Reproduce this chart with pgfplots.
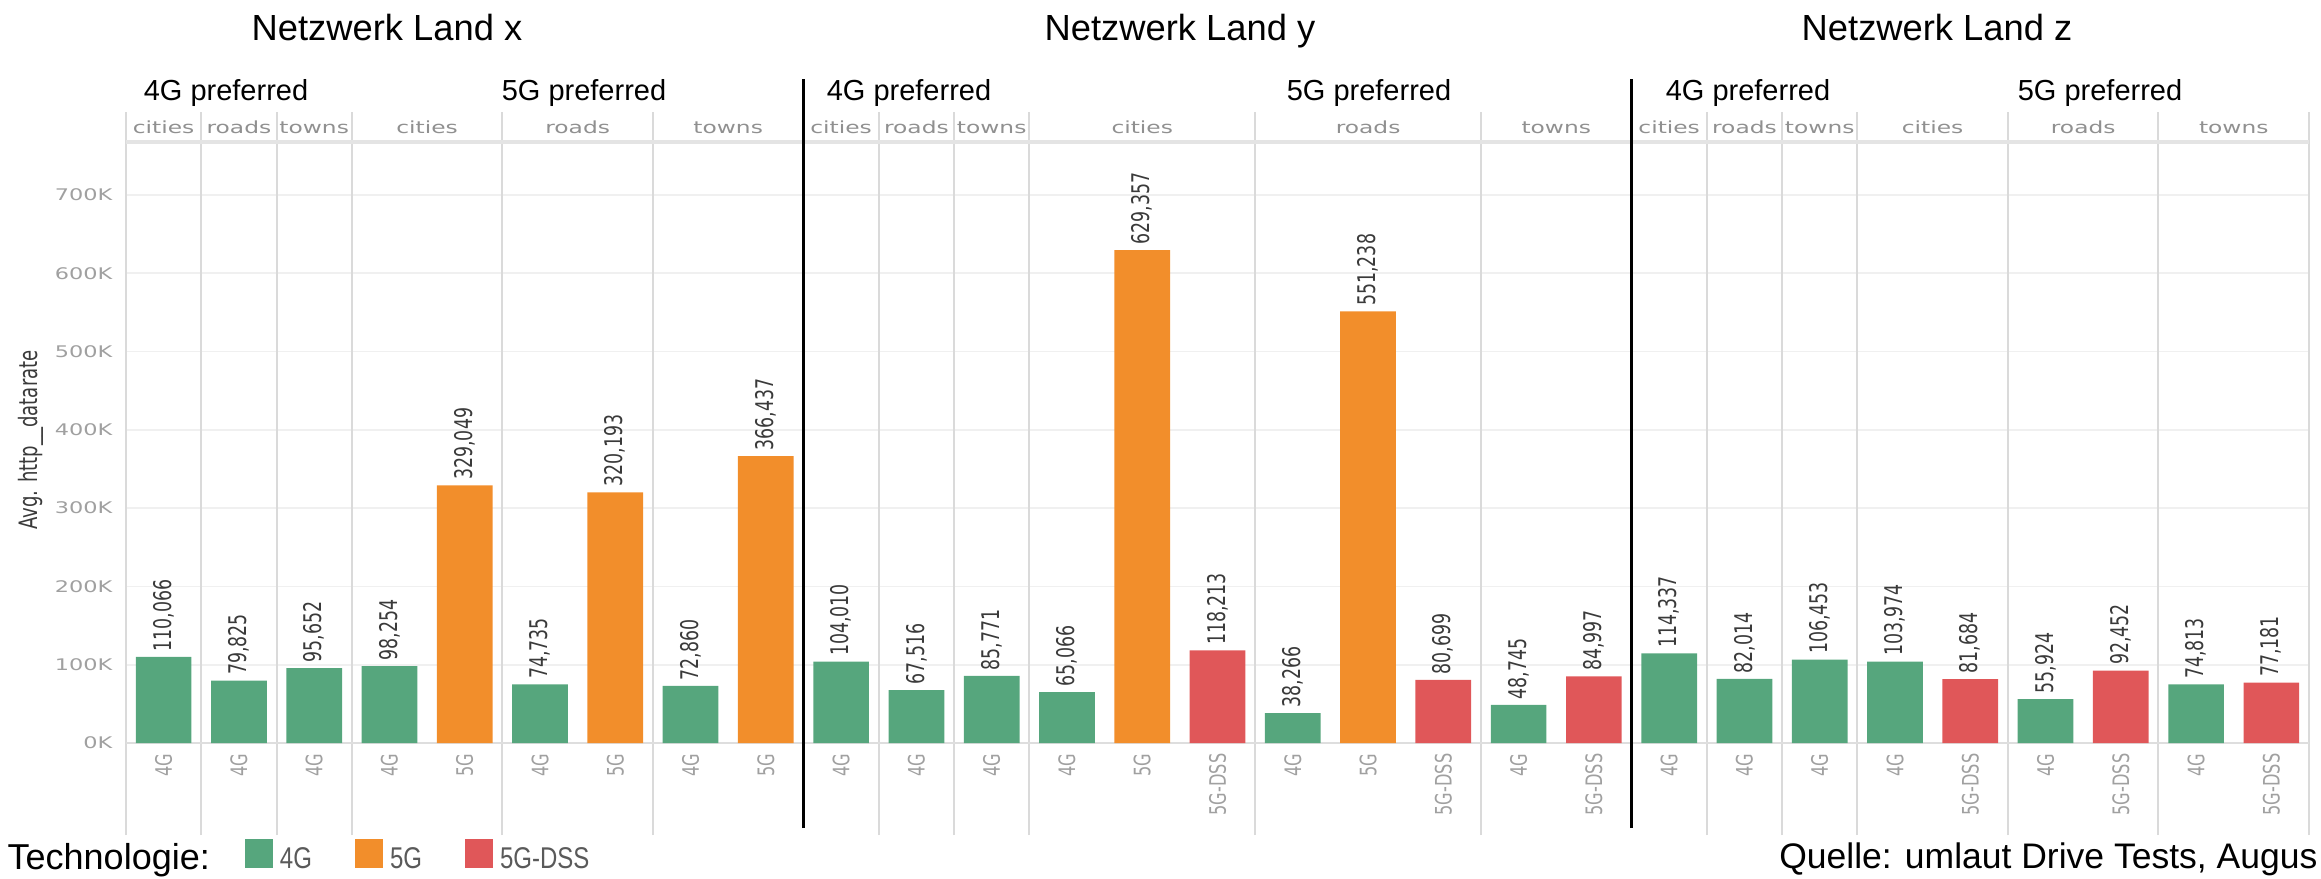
\documentclass[border=0pt]{standalone}
\usepackage{fontspec}
\setmainfont{DejaVu Sans}
\newfontfamily\wideFont{DejaVu Sans}[FakeStretch=1.4]
\newfontfamily\rotFont{DejaVu Sans}[FakeStretch=0.714]
\newfontfamily\slideFont{Liberation Sans}
\newfontfamily\legFont{Liberation Sans}[FakeStretch=0.8]
\usepackage{pgfplots}
\pgfplotsset{compat=1.18}
\definecolor{g4}{HTML}{56A67D}
\definecolor{o5}{HTML}{F28E2B}
\definecolor{r5}{HTML}{E05759}
\definecolor{tickgrey}{HTML}{A0A0A0}
\definecolor{sepgrey}{HTML}{DADADA}
\definecolor{gridgrey}{HTML}{F0F0F0}
\definecolor{basegrey}{HTML}{DEDEDE}
\definecolor{labgrey}{HTML}{3A3A3A}
\definecolor{legtext}{HTML}{5A5A5A}
\pgfplotsset{mylegend/.style={legend image code/.code={\fill[##1] (0pt,-1.5pt) rectangle (8.4pt,7.2pt);}}}
\tikzset{hdr/.style={anchor=base, inner sep=0pt, font=\wideFont\fontsize{5}{5}\selectfont, text=tickgrey!90!black}}
\begin{document}
\begin{tikzpicture}
\useasboundingbox (0,0) rectangle (696.3pt,263.4pt);
\begin{axis}[
  at={(37.8pt,40.5pt)}, anchor=south west,
  width=654.9pt, height=180.3pt, scale only axis,
  xmin=0, xmax=29, ymin=0, ymax=767560,
  clip=false,
  axis line style={draw=none},
  tick style={draw=none}, major tick length=0pt,
  scaled y ticks=false,
  ytick={0,100000,200000,300000,400000,500000,600000,700000},
  yticklabels={0K,100K,200K,300K,400K,500K,600K,700K},
  yticklabel style={anchor=east, inner sep=0pt, xshift=-3.9pt, font=\wideFont\fontsize{4.8}{5}\selectfont, text=tickgrey},
  ymajorgrids, major grid style={gridgrey, line width=0.5pt},
  xtick={0.5,1.5,...,28.5},
  xticklabels={4G,4G,4G,4G,5G,4G,5G,4G,5G,
               4G,4G,4G,4G,5G,5G-DSS,4G,5G,5G-DSS,4G,5G-DSS,
               4G,4G,4G,4G,5G-DSS,4G,5G-DSS,4G,5G-DSS},
  xticklabel style={yshift=-3pt, rotate=90, anchor=east, inner sep=0pt, font=\rotFont\fontsize{6.8}{7}\selectfont, text=tickgrey},
  ybar, bar width=0.74,
  nodes near coords={\pgfmathprintnumber[fixed,precision=0,1000 sep={,},assume math mode=true]{\pgfplotspointmeta}},
  nodes near coords align={anchor=west},
  every node near coord/.append style={rotate=90, anchor=west, inner sep=1.5pt, font=\rotFont\fontsize{7.3}{8}\selectfont, text=labgrey},
  legend style={draw=none, fill=none, inner sep=0pt, outer sep=0pt, at={(0.0545,-0.1922)}, anchor=west, legend columns=-1,
    /tikz/every odd column/.append style={column sep=2.1pt},
    /tikz/every even column/.append style={column sep=12.9pt},
    nodes={inner sep=0pt, font=\legFont\fontsize{9}{10}\selectfont, text=legtext}},
]
% separators
\pgfplotsinvokeforeach{0,1,2,3,5,7,10,11,12,15,18,21,22,23,25,27,29}{
  \draw[sepgrey, line width=0.6pt] (axis cs:#1,-117500) -- (axis cs:#1,805900);
}
\draw[basegrey, line width=0.6pt] (axis cs:0,0) -- (axis cs:29,0);
\draw[basegrey!80, line width=1.2pt] (axis cs:0,767560) -- (axis cs:29,767560);
\pgfplotsinvokeforeach{9,20}{
  \draw[black, line width=1pt] (axis cs:#1,-108600) -- (axis cs:#1,848000);
}
% header labels
\node[hdr] at (axis cs:0.5,779050) {cities};
\node[hdr] at (axis cs:1.5,779050) {roads};
\node[hdr] at (axis cs:2.5,779050) {towns};
\node[hdr] at (axis cs:4,779050) {cities};
\node[hdr] at (axis cs:6,779050) {roads};
\node[hdr] at (axis cs:8,779050) {towns};
\node[hdr] at (axis cs:9.5,779050) {cities};
\node[hdr] at (axis cs:10.5,779050) {roads};
\node[hdr] at (axis cs:11.5,779050) {towns};
\node[hdr] at (axis cs:13.5,779050) {cities};
\node[hdr] at (axis cs:16.5,779050) {roads};
\node[hdr] at (axis cs:19,779050) {towns};
\node[hdr] at (axis cs:20.5,779050) {cities};
\node[hdr] at (axis cs:21.5,779050) {roads};
\node[hdr] at (axis cs:22.5,779050) {towns};
\node[hdr] at (axis cs:24,779050) {cities};
\node[hdr] at (axis cs:26,779050) {roads};
\node[hdr] at (axis cs:28,779050) {towns};

\addplot[fill=g4, draw=none, bar shift=0pt, mylegend] coordinates {
  (0.5,110066) (1.5,79825) (2.5,95652) (3.5,98254) (5.5,74735) (7.5,72860)
  (9.5,104010) (10.5,67516) (11.5,85771) (12.5,65066) (15.5,38266) (18.5,48745)
  (20.5,114337) (21.5,82014) (22.5,106453) (23.5,103974) (25.5,55924) (27.5,74813)
};
\addlegendentry{\raisebox{1.5pt}{4G}}
\addplot[fill=o5, draw=none, bar shift=0pt, mylegend] coordinates {
  (4.5,329049) (6.5,320193) (8.5,366437) (13.5,629357) (16.5,551238)
};
\addlegendentry{\raisebox{1.5pt}{5G}}
\addplot[fill=r5, draw=none, bar shift=0pt, mylegend] coordinates {
  (14.5,118213) (17.5,80699) (19.5,84997)
  (24.5,81684) (26.5,92452) (28.5,77181)
};
\addlegendentry{\raisebox{1.5pt}{5G-DSS}}
\end{axis}
% titles and annotations
\node[anchor=base, inner sep=0pt, font=\slideFont\fontsize{10.9}{12}\selectfont] at (116.1pt,251.2pt) {Netzwerk Land x};
\node[anchor=base, inner sep=0pt, font=\slideFont\fontsize{10.9}{12}\selectfont] at (354pt,251.2pt) {Netzwerk Land y};
\node[anchor=base, inner sep=0pt, font=\slideFont\fontsize{10.9}{12}\selectfont] at (581.1pt,251.2pt) {Netzwerk Land z};
\foreach \xx/\tt in {67.8/4G, 175.2/5G, 272.7/4G, 410.7/5G, 524.4/4G, 630/5G}{
  \node[anchor=base, inner sep=0pt, font=\slideFont\fontsize{8.7}{10}\selectfont] at (\xx pt,233.4pt) {\tt\ preferred};
}
\node[rotate=90, inner sep=0pt, font=\rotFont\fontsize{7.6}{8}\selectfont, text=labgrey] at (9.3pt,131.4pt) {Avg. http\_\_datarate};
\node[anchor=base west, inner sep=0pt, font=\slideFont\fontsize{10.8}{12}\selectfont] at (2.1pt,2.7pt) {Technologie:};
\node[anchor=base east, inner sep=0pt, font=\slideFont\fontsize{10.65}{12}\selectfont] at (695.4pt,3pt) {Quelle: umlaut Drive Tests, Augus};
\end{tikzpicture}
\end{document}
